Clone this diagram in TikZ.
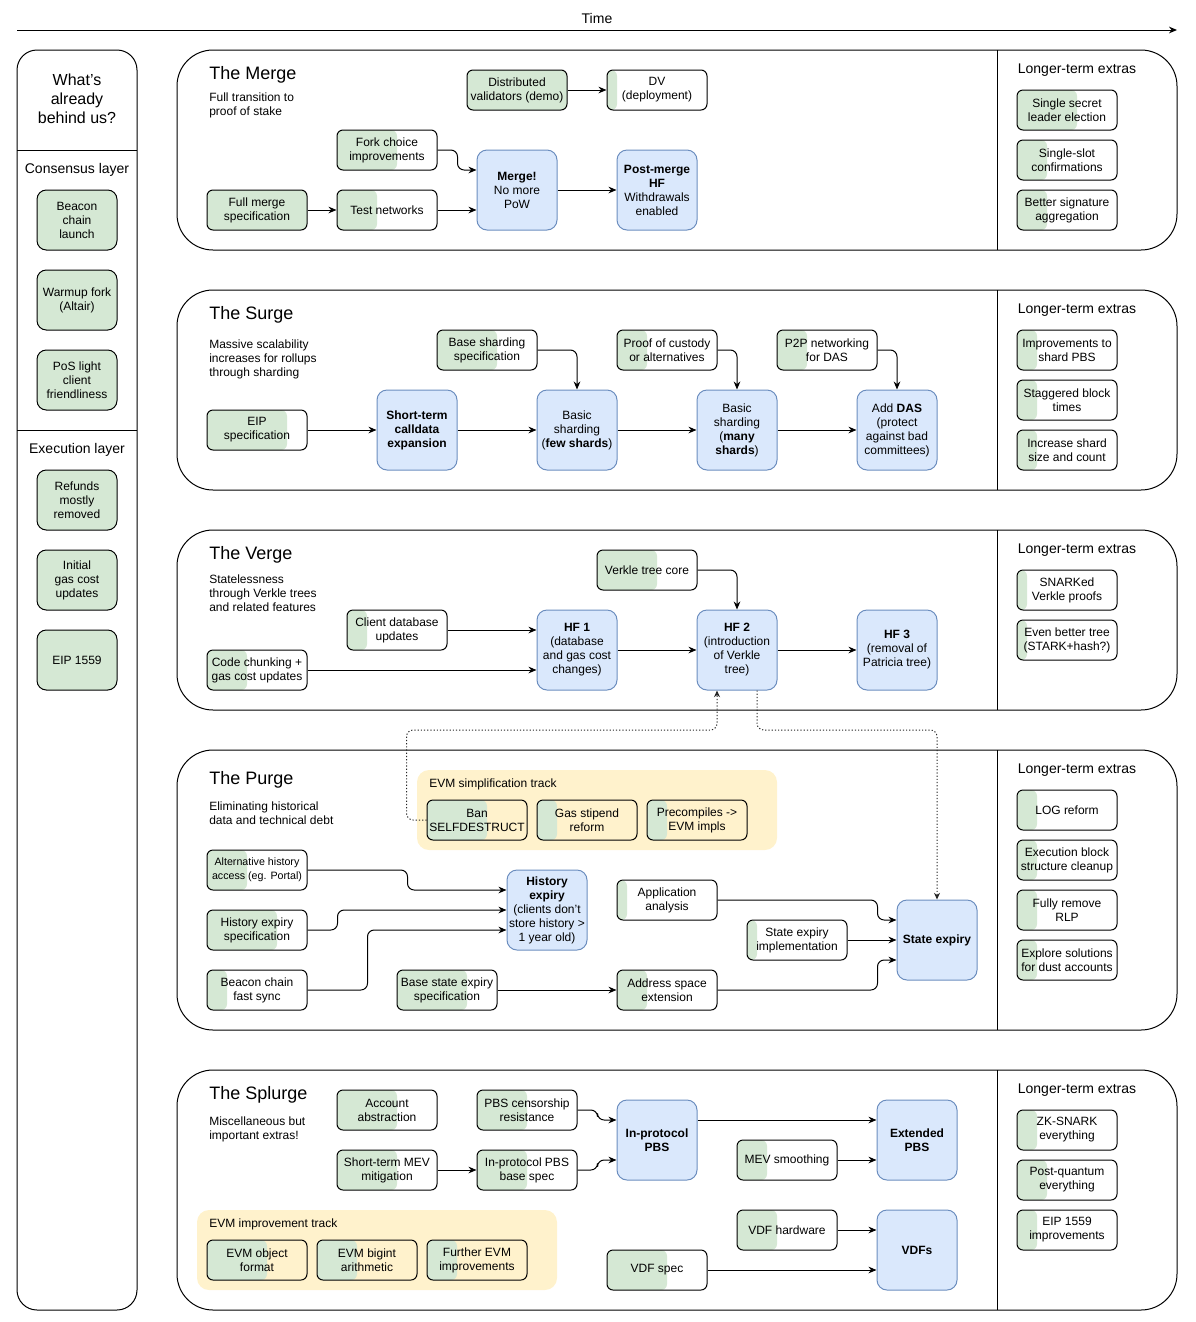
\documentclass[tikz,border=0pt]{standalone}
\usepackage{fontspec}
\setmainfont{Liberation Sans}
\usetikzlibrary{arrows.meta,calc}
\definecolor{gfill}{HTML}{D5E8D4}
\definecolor{bfill}{HTML}{DAE8FC}
\definecolor{bline}{HTML}{6C8EBF}
\definecolor{yfill}{HTML}{FFF2CC}
\begin{document}
\begin{tikzpicture}[x=0.75pt,y=-0.75pt,
  base/.style={draw=black, line width=0.75pt, align=center, inner sep=0.5pt, text=black, font=\fontsize{9}{10.5}\selectfont},
  wbox/.style={base, fill=white, rounded corners=4.5pt, minimum width=75pt, minimum height=30pt},
  tbox/.style={wbox, fill=yfill},
  gbox/.style={wbox, fill=gfill},
  lbox/.style={base, fill=gfill, rounded corners=7pt, minimum width=60pt, minimum height=45pt},
  bbox/.style={base, draw=bline, fill=bfill, rounded corners=7.5pt, minimum width=60pt, minimum height=60pt},
  prog/.style={path picture={\fill[gfill] (path picture bounding box.south west) rectangle ($(path picture bounding box.north west)!#1!(path picture bounding box.north east)$);}},
  frame/.style={draw=black, line width=0.75pt, rounded corners=27pt},
  ttl/.style={anchor=west, inner sep=0pt, font=\fontsize{13.5}{15}\selectfont},
  sub/.style={anchor=north west, inner sep=0pt, align=left, font=\fontsize{9}{10.5}\selectfont},
  ext/.style={inner sep=0pt, font=\fontsize{10.5}{12}\selectfont},
  trk/.style={anchor=west, inner sep=0pt, font=\fontsize{9}{10.5}\selectfont},
  arr/.style={-{Stealth[length=6pt,width=5pt]}, line width=0.75pt},
  rc/.style={rounded corners=5pt},
  dotarr/.style={-{Stealth[length=5pt,width=4.5pt]}, line width=0.75pt, dash pattern=on 0.9pt off 1.5pt, black!85}
]
\useasboundingbox (0,0) rectangle (1196,1322);

% time axis
\node[inner sep=0pt, font=\fontsize{10.5}{12}\selectfont] (time) at (597,18) {Time};
\coordinate (t0) at (17,30);
\coordinate (t1) at (1177,30);
\draw[arr] (t0) -- (t1);

% left column
\draw[line width=0.75pt, rounded corners=15pt] (17,50) rectangle (137,1310);
\draw[line width=0.75pt] (17,150) -- (137,150);
\draw[line width=0.75pt] (17,430) -- (137,430);
\node[align=center, inner sep=0pt, font=\fontsize{12}{14.25}\selectfont] (behind) at (77,99) {What's\\already\\behind us?};
\node[ext] (cons) at (77,170) {Consensus layer};
\node[ext] (exec) at (77,450) {Execution layer};
\node[lbox] (bcl) at (77,220) {Beacon\\chain\\launch};
\node[lbox] (alt1) at (77,300) {Warmup fork\\(Altair)};
\node[lbox] (pos) at (77,380) {PoS light\\client\\friendliness};
\node[lbox] (ref) at (77,500) {Refunds\\mostly\\removed};
\node[lbox] (igc) at (77,580) {Initial\\gas cost\\updates};
\node[lbox] (e1559) at (77,660) {EIP 1559};

% ================= The Merge =================
\draw[frame] (177,50) rectangle (1177,250);
\draw[line width=0.75pt] (997,50) -- (997,250);
\node[ttl] (tmerge) at (209,75) {The Merge};
\node[sub] (smerge) at (209,93) {Full transition to\\proof of stake};
\node[ext] (xmerge) at (1077,70) {Longer-term extras};
\node[gbox] (dvdemo) at (517,90) {Distributed\\validators (demo)};
\node[wbox, prog=0.1] (dvdep) at (657,90) {DV\\(deployment)};
\node[wbox, prog=0.6] (fork) at (387,150) {Fork choice\\improvements};
\node[gbox] (fullspec) at (257,210) {Full merge\\specification};
\node[wbox, prog=0.4] (testnet) at (387,210) {Test networks};
\node[bbox] (merge) at (517,190) {\textbf{Merge!}\\No more\\PoW};
\node[bbox] (postmerge) at (657,190) {\textbf{Post-merge}\\\textbf{HF}\\Withdrawals\\enabled};
\node[wbox, prog=0.6] (ssle) at (1067,110) {Single secret\\leader election};
\node[wbox, prog=0.3] (ssc) at (1067,160) {Single-slot\\confirmations};
\node[wbox, prog=0.3] (bsa) at (1067,210) {Better signature\\aggregation};
\draw[arr] (dvdemo) -- (dvdep);
\draw[arr, rc] (fork.east) -- ++(20,0) |- ([yshift=15pt]merge.west);
\draw[arr] (fullspec) -- (testnet);
\draw[arr] (testnet.east) -- (testnet.east -| merge.west);
\draw[arr] (merge) -- (postmerge);

% ================= The Surge =================
\draw[frame] (177,290) rectangle (1177,490);
\draw[line width=0.75pt] (997,290) -- (997,490);
\node[ttl] (tsurge) at (209,315) {The Surge};
\node[sub] (ssurge) at (209,340) {Massive scalability\\increases for rollups\\through sharding};
\node[ext] (xsurge) at (1077,310) {Longer-term extras};
\node[wbox, prog=0.8] (eip) at (257,430) {EIP\\specification};
\node[bbox] (stce) at (417,430) {\textbf{Short-term}\\\textbf{calldata}\\\textbf{expansion}};
\node[wbox, prog=0.6] (bss) at (487,350) {Base sharding\\specification};
\node[bbox] (bsf) at (577,430) {Basic\\sharding\\(\textbf{few shards})};
\node[wbox, prog=0.3] (poc) at (667,350) {Proof of custody\\or alternatives};
\node[bbox] (bsm) at (737,430) {Basic\\sharding\\(\textbf{many}\\\textbf{shards})};
\node[wbox, prog=0.3] (p2p) at (827,350) {P2P networking\\for DAS};
\node[bbox] (das) at (897,430) {Add \textbf{DAS}\\(protect\\against bad\\committees)};
\node[wbox, prog=0.2] (ispbs) at (1067,350) {Improvements to\\shard PBS};
\node[wbox, prog=0.2] (sbt) at (1067,400) {Staggered block\\times};
\node[wbox, prog=0.2] (iss) at (1067,450) {Increase shard\\size and count};
\draw[arr] (eip) -- (stce);
\draw[arr] (stce) -- (bsf);
\draw[arr] (bsf) -- (bsm);
\draw[arr] (bsm) -- (das);
\draw[arr, rc] (bss.east) -| (bsf.north);
\draw[arr, rc] (poc.east) -| (bsm.north);
\draw[arr, rc] (p2p.east) -| (das.north);

% ================= The Verge =================
\draw[frame] (177,530) rectangle (1177,710);
\draw[line width=0.75pt] (997,530) -- (997,710);
\node[ttl] (tverge) at (209,555) {The Verge};
\node[sub] (sverge) at (209,575) {Statelessness\\through Verkle trees\\and related features};
\node[ext] (xverge) at (1077,550) {Longer-term extras};
\node[wbox, prog=0.2] (cdb) at (397,630) {Client database\\updates};
\node[wbox, prog=0.4] (cc) at (257,670) {Code chunking +\\gas cost updates};
\node[bbox] (hf1) at (577,650) {\textbf{HF 1}\\(database\\and gas cost\\changes)};
\node[wbox, prog=0.6] (vtc) at (647,570) {Verkle tree core};
\node[bbox] (hf2) at (737,650) {\textbf{HF 2}\\(introduction\\of Verkle\\tree)};
\node[bbox] (hf3) at (897,650) {\textbf{HF 3}\\(removal of\\Patricia tree)};
\node[wbox, prog=0.1] (snv) at (1067,590) {SNARKed\\Verkle proofs};
\node[wbox, prog=0.1] (ebt) at (1067,640) {Even better tree\\(STARK+hash?)};
\draw[arr] (cdb.east) -- (cdb.east -| hf1.west);
\draw[arr] (cc.east) -- (cc.east -| hf1.west);
\draw[arr] (hf1) -- (hf2);
\draw[arr] (hf2) -- (hf3);
\draw[arr, rc] (vtc.east) -| (hf2.north);

% ================= The Purge =================
\draw[frame] (177,750) rectangle (1177,1030);
\draw[line width=0.75pt] (997,750) -- (997,1030);
\node[ttl] (tpurge) at (209,780) {The Purge};
\node[sub] (spurge) at (209,802) {Eliminating historical\\data and technical debt};
\node[ext] (xpurge) at (1077,770) {Longer-term extras};
\fill[yfill, rounded corners=9pt] (417,770) rectangle (777,850);
\node[trk] (lsimp) at (429,784) {EVM simplification track};
\node[tbox, prog=0.6] (ban) at (477,820) {Ban\\SELFDESTRUCT};
\node[tbox, prog=0.2] (gas) at (587,820) {Gas stipend\\reform};
\node[tbox, prog=0.2] (pre) at (697,820) {Precompiles ->\\EVM impls};
\node[wbox, prog=0.4, font=\fontsize{8}{10.5}\selectfont] (alt) at (257,870) {Alternative history\\access (eg. Portal)};
\node[wbox, prog=0.7] (hes) at (257,930) {History expiry\\specification};
\node[wbox, prog=0.2] (bcfs) at (257,990) {Beacon chain\\fast sync};
\node[bbox] (hexp) at (547,910) {\textbf{History}\\\textbf{expiry}\\(clients don't\\store history >\\1 year old)};
\node[wbox, prog=0.1] (app) at (667,900) {Application\\analysis};
\node[wbox, prog=0.1] (sei) at (797,940) {State expiry\\implementation};
\node[wbox, prog=0.7] (bse) at (447,990) {Base state expiry\\specification};
\node[wbox, prog=0.3] (ase) at (667,990) {Address space\\extension};
\node[bbox] (sexp) at (937,940) {\textbf{State expiry}};
\node[wbox, prog=0.2] (logr) at (1067,810) {LOG reform};
\node[wbox, prog=0.2] (ebs) at (1067,860) {Execution block\\structure cleanup};
\node[wbox, prog=0.2] (rlp) at (1067,910) {Fully remove\\RLP};
\node[wbox, prog=0.2] (dust) at (1067,960) {Explore solutions\\for dust accounts};
\draw[arr, rc] (alt.east) -- ++(100,0) |- ([yshift=15pt]hexp.west);
\draw[arr, rc] (hes.east) -- ++(30,0) |- (hexp.west);
\draw[arr, rc] (bcfs.east) -- ++(60,0) |- ([yshift=-15pt]hexp.west);
\draw[arr] (bse) -- (ase);
\draw[arr, rc] (app.east) -- ++(160,0) |- ([yshift=15pt]sexp.west);
\draw[arr] (sei) -- (sexp);
\draw[arr, rc] (ase.east) -- ++(160,0) |- ([yshift=-15pt]sexp.west);

% dotted cross-section links
\coordinate (lvl) at (0,730);
\coordinate (hf2a) at ([xshift=-15pt]hf2.south);
\coordinate (hf2b) at ([xshift=15pt]hf2.south);
\draw[dotarr, rc] (ban.west) -- ++(-20,0) coordinate (d1) -- (d1 |- lvl) -- (hf2a |- lvl) -- (hf2a);
\draw[dotarr, rc] (hf2b) -- (hf2b |- lvl) -- (sexp.north |- lvl) -- (sexp.north);

% ================= The Splurge =================
\draw[frame] (177,1070) rectangle (1177,1310);
\draw[line width=0.75pt] (997,1070) -- (997,1310);
\node[ttl] (tsplurge) at (209,1095) {The Splurge};
\node[sub] (ssplurge) at (209,1117) {Miscellaneous but\\important extras!};
\node[ext] (xsplurge) at (1077,1090) {Longer-term extras};
\node[wbox, prog=0.6] (aa) at (387,1110) {Account\\abstraction};
\node[wbox, prog=0.5] (pbscr) at (527,1110) {PBS censorship\\resistance};
\node[wbox, prog=0.6] (stmev) at (387,1170) {Short-term MEV\\mitigation};
\node[wbox, prog=0.5] (ipbsb) at (527,1170) {In-protocol PBS\\base spec};
\node[bbox] (ipbs) at (657,1140) {\textbf{In-protocol}\\\textbf{PBS}};
\node[wbox, prog=0.3] (mevs) at (787,1160) {MEV smoothing};
\node[bbox] (epbs) at (917,1140) {\textbf{Extended}\\\textbf{PBS}};
\fill[yfill, rounded corners=9pt] (197,1210) rectangle (557,1290);
\node[trk] (limp) at (209,1224) {EVM improvement track};
\node[tbox, prog=0.6] (eof) at (257,1260) {EVM object\\format};
\node[tbox, prog=0.4] (big) at (367,1260) {EVM bigint\\arithmetic};
\node[tbox, prog=0.3] (fev) at (477,1260) {Further EVM\\improvements};
\node[wbox, prog=0.4] (vdfh) at (787,1230) {VDF hardware};
\node[wbox, prog=0.6] (vdfs) at (657,1270) {VDF spec};
\node[bbox] (vdf) at (917,1250) {\textbf{VDFs}};
\node[wbox, prog=0.2] (zks) at (1067,1130) {ZK-SNARK\\everything};
\node[wbox, prog=0.3] (pq) at (1067,1180) {Post-quantum\\everything};
\node[wbox, prog=0.2] (e1559i) at (1067,1230) {EIP 1559\\improvements};
\draw[arr, rc] (pbscr.east) -- ++(20,0) |- ([yshift=15pt]ipbs.west);
\draw[arr] (stmev) -- (ipbsb);
\draw[arr, rc] (ipbsb.east) -- ++(20,0) |- ([yshift=-15pt]ipbs.west);
\draw[arr] ([yshift=15pt]ipbs.east) -- ([yshift=15pt]epbs.west);
\draw[arr] (mevs.east) -- (mevs.east -| epbs.west);
\draw[arr] (vdfh.east) -- (vdfh.east -| vdf.west);
\draw[arr] (vdfs.east) -- (vdfs.east -| vdf.west);
\end{tikzpicture}
\end{document}
